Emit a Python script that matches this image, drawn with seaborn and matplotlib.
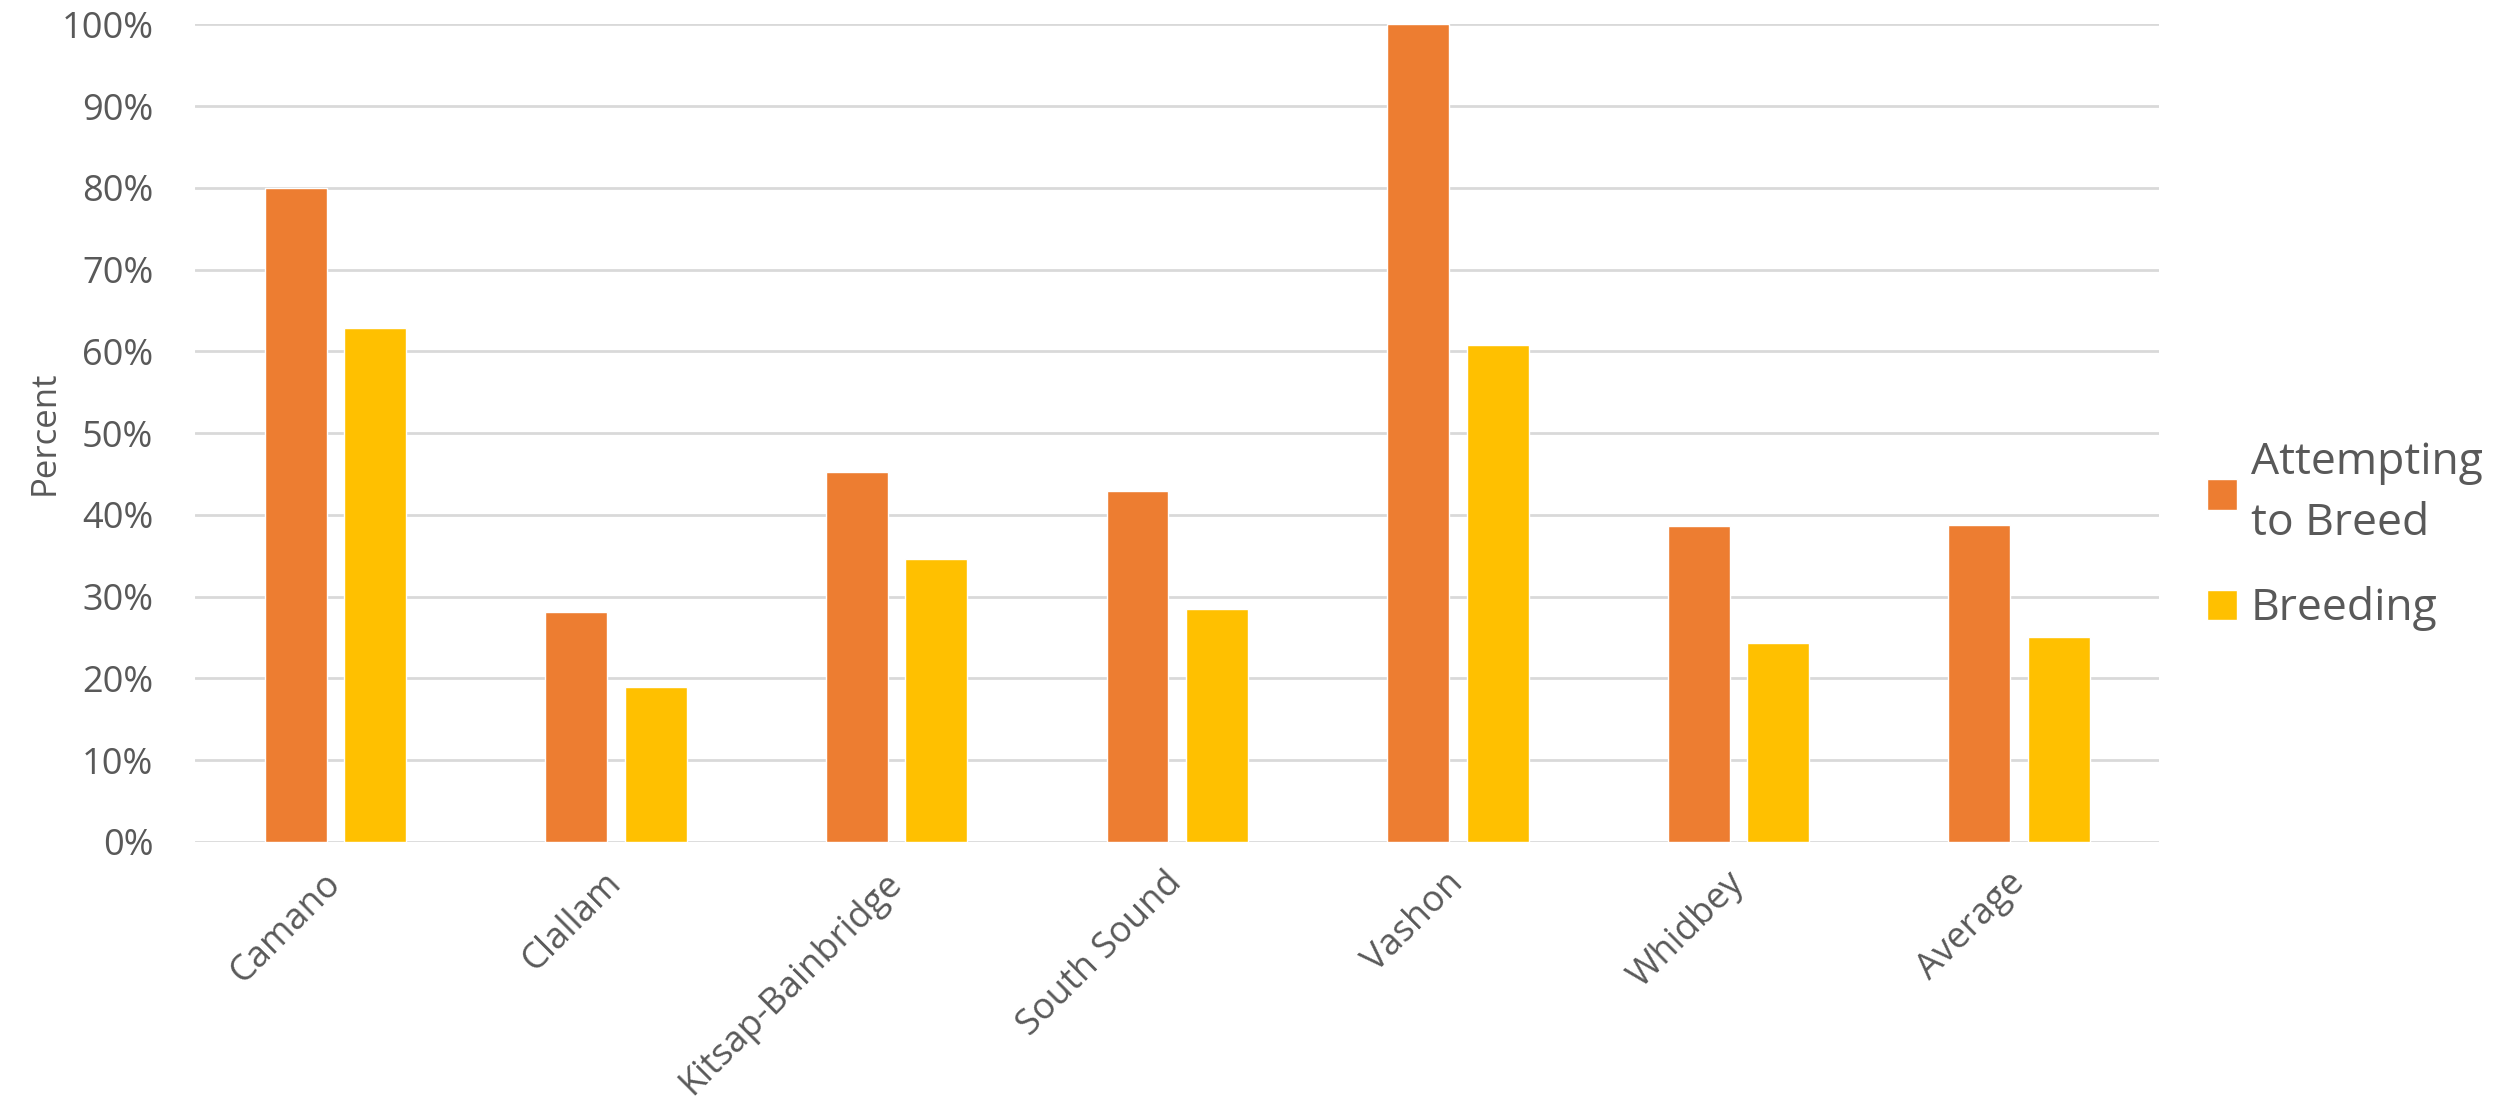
import numpy as np
import pandas as pd
import matplotlib
matplotlib.use("Agg")
import matplotlib.pyplot as plt
import seaborn as sns
from matplotlib.ticker import FuncFormatter

# chart values
sites = ["Camano", "Clallam", "Kitsap-Bainbridge", "South Sound", "Vashon", "Whidbey", "Average"]
attempting = [80.0, 28.1, 45.3, 42.9, 100.0, 38.6, 38.7]
breeding = [62.9, 18.9, 34.6, 28.5, 60.8, 24.3, 25.1]
series_names = ["Attempting\nto Breed", "Breeding"]
colors = ["#ED7D31", "#FFC000"]
yticks = [0, 10, 20, 30, 40, 50, 60, 70, 80, 90, 100]

df = pd.DataFrame({
    "Site": sites * 2,
    "Series": [series_names[0]] * len(sites) + [series_names[1]] * len(sites),
    "Percent": attempting + breeding,
})

sns.set_theme(style="white")
plt.rcParams["font.family"] = ["Open Sans", "DejaVu Sans"]
text_col = "#595959"

fig = plt.figure(figsize=(25.09, 11.12), dpi=100)
ax = fig.add_axes([0.0777, 0.243, 0.783, 0.735])

sns.barplot(data=df, x="Site", y="Percent", hue="Series", palette=colors,
            width=0.566, gap=0.22, ax=ax, saturation=1, errorbar=None)

ax.set_ylim(0, 100)
ax.set_xlim(-0.5, len(sites) - 0.5)
ax.set_yticks(yticks)
ax.yaxis.set_major_formatter(FuncFormatter(lambda v, p: f"{v:.0f}%"))
ax.grid(axis="y", color="#D9D9D9", linewidth=2)
ax.set_axisbelow(True)
for s in ax.spines.values():
    s.set_visible(False)

ax.tick_params(axis="y", length=0, pad=30, labelsize=26, labelcolor=text_col)
ax.tick_params(axis="x", length=0, pad=26, labelsize=26, labelcolor=text_col)
plt.setp(ax.get_xticklabels(), rotation=45, ha="right", va="center", rotation_mode="anchor")

ax.set_xlabel("")
ax.set_ylabel("Percent", fontsize=25, color=text_col)
ax.yaxis.set_label_coords(-0.068, 0.5)

handles, labels = ax.get_legend_handles_labels()
ax.legend_.remove()
leg = fig.legend(handles, labels, loc="center left", bbox_to_anchor=(0.8795, 0.518),
                 frameon=False, fontsize=32, labelcolor=text_col, borderpad=0,
                 borderaxespad=0, handlelength=0.68, handleheight=0.68,
                 handletextpad=0.32, labelspacing=0.9)
for t in leg.get_texts():
    t.set_linespacing(1.5)

fig.savefig("out.png", dpi=100, facecolor="white")
